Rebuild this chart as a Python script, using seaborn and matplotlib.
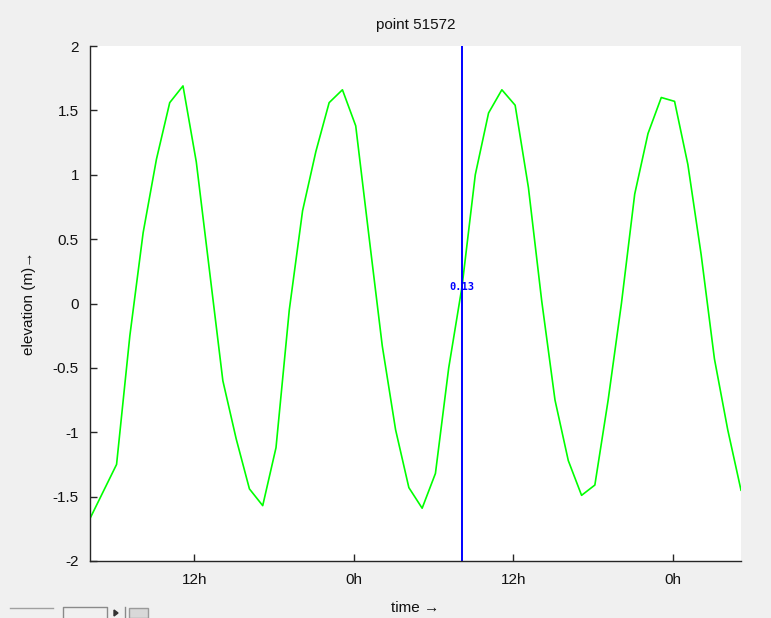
import numpy as np
import pandas as pd
import matplotlib
matplotlib.use("Agg")
import matplotlib.pyplot as plt
import seaborn as sns
from matplotlib.ticker import FuncFormatter
from matplotlib.lines import Line2D
from matplotlib.patches import Rectangle, Polygon

# ---------------- data ----------------
title_text = "point 51572"
start_hour = 4.15          # time of first sample (hours)
elevation = [-1.67, -1.46, -1.25, -0.25, 0.55, 1.12, 1.56, 1.69, 1.10, 0.25,
             -0.60, -1.05, -1.44, -1.57, -1.12, -0.05, 0.72, 1.18, 1.56, 1.66,
             1.38, 0.52, -0.33, -0.98, -1.43, -1.59, -1.32, -0.50, 0.13, 1.00,
             1.48, 1.66, 1.54, 0.90, 0.02, -0.75, -1.22, -1.49, -1.41, -0.75,
             0.00, 0.85, 1.32, 1.60, 1.57, 1.08, 0.38, -0.43, -0.98, -1.45]
cursor_index = 28
cursor_label = "0.13"
xtick_hours = [12, 24, 36, 48]
xtick_labels = ["12h", "0h", "12h", "0h"]
ytick_values = [-2, -1.5, -1, -0.5, 0, 0.5, 1, 1.5, 2]

hours = start_hour + np.arange(len(elevation))
df = pd.DataFrame({"time": hours, "elevation": elevation})

# ---------------- figure ----------------
W, H = 771, 618
fig = plt.figure(figsize=(W / 100, H / 100), dpi=100, facecolor="#f0f0f0")
plt.rcParams["font.family"] = ["Liberation Sans", "DejaVu Sans"]

left, right, top, bottom = 90, 741, 46, 561
ax = fig.add_axes([left / W, 1 - bottom / H, (right - left) / W, (bottom - top) / H])
ax.set_facecolor("white")

sns.lineplot(data=df, x="time", y="elevation", color="#00ff00", linewidth=1.2, ax=ax)

ct = df["time"].iloc[cursor_index]
cv = df["elevation"].iloc[cursor_index]
ax.axvline(ct, color="#0000ff", linewidth=1.4)
ax.text(ct, cv, cursor_label, color="#0000ff", fontsize=7.5, ha="center", va="center",
        family="DejaVu Sans Mono", fontweight="bold")

ax.set_xlim(hours[0], hours[-1])
ax.set_ylim(-2, 2)
ax.set_xticks(xtick_hours)
ax.set_xticklabels(xtick_labels)
ax.set_yticks(ytick_values)
ax.yaxis.set_major_formatter(FuncFormatter(lambda v, p: "%g" % v))

for s in ["top", "right"]:
    ax.spines[s].set_visible(False)
for s in ["left", "bottom"]:
    ax.spines[s].set_color("#262626")
    ax.spines[s].set_linewidth(1.0)
ax.tick_params(direction="in", length=5, width=1, color="#262626",
               labelsize=11, labelcolor="#111111")
ax.tick_params(axis="x", pad=9)
ax.tick_params(axis="y", pad=8)

ax.set_title(title_text, fontsize=11, color="#111111", pad=12)
ax.set_xlabel("time \u2192", fontsize=11, color="#111111", labelpad=10)
ax.set_ylabel("elevation (m)\u2192", fontsize=11, color="#111111", labelpad=12)

# ---------------- UI chrome at bottom-left ----------------
def fx(x):
    return x / W

def fy(y):
    return 1 - y / H

fig.add_artist(Line2D([fx(10), fx(53)], [fy(607.5), fy(607.5)], color="#a0a0a0", lw=1,
                      transform=fig.transFigure))
fig.add_artist(Line2D([fx(63), fx(63), fx(107), fx(107)], [fy(618), fy(607), fy(607), fy(618)],
                      color="#8a8a8a", lw=1, transform=fig.transFigure))
fig.add_artist(Polygon([[fx(114), fy(610)], [fx(114), fy(616)], [fx(118), fy(613)]],
                       closed=True, color="#333333", transform=fig.transFigure))
fig.add_artist(Line2D([fx(125), fx(125)], [fy(607), fy(618)], color="#8a8a8a", lw=1,
                      transform=fig.transFigure))
fig.add_artist(Rectangle((fx(129), fy(618)), fx(19), 10 / H, facecolor="#d8d8d8",
                         edgecolor="#9a9a9a", lw=1, transform=fig.transFigure))

fig.savefig("out.png", dpi=100, facecolor=fig.get_facecolor())
